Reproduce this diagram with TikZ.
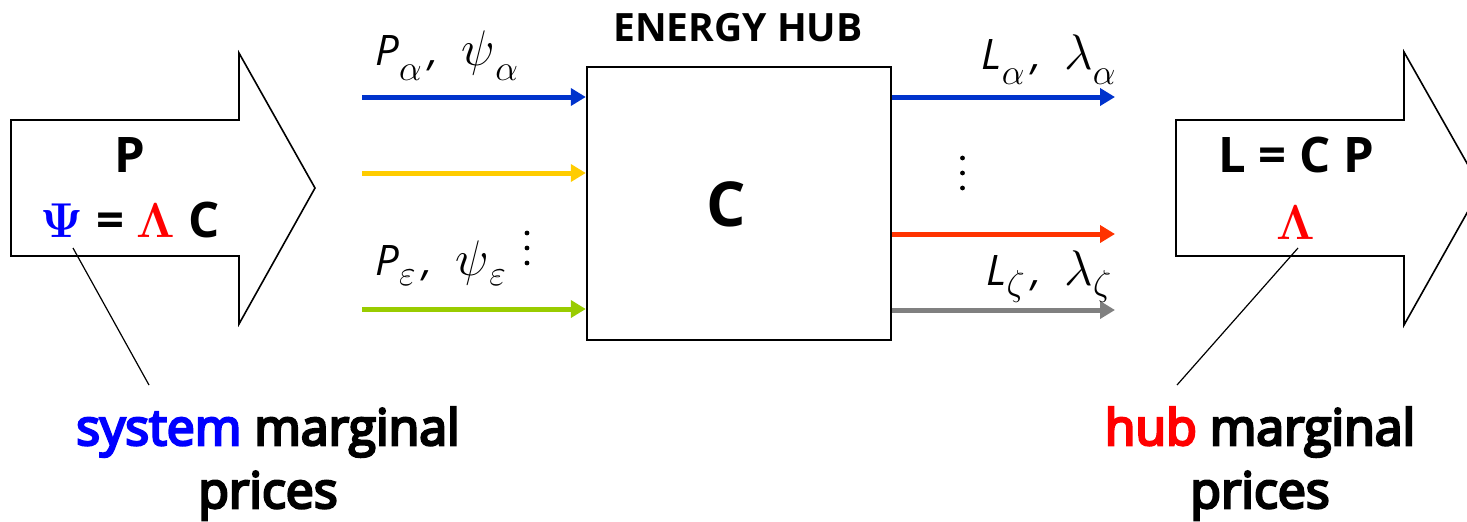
\RequirePackage{fix-cm}
\documentclass[tikz,border=0pt]{standalone}
\usepackage{amsmath}
\usepackage[no-math]{fontspec}
\setmainfont{Open Sans}
\newfontfamily\semibold{Open Sans}[FakeBold=5]
\usetikzlibrary{arrows.meta}
\definecolor{inblue}{HTML}{0033CC}
\definecolor{ingold}{HTML}{FFCC00}
\definecolor{ingreen}{HTML}{99CC00}
\definecolor{outred}{HTML}{FF3300}
\definecolor{outgrey}{HTML}{808080}
\definecolor{sysblue}{HTML}{0000FF}
\definecolor{hubred}{HTML}{FF0000}
\newcommand{\lowsub}[2][7.5pt]{\raisebox{-#1}{\fontsize{18}{18}\selectfont$#2$}}
\newcommand{\bigsym}[1]{{\fontsize{25}{25}\selectfont$#1$}}

\begin{document}
\begin{tikzpicture}[
  x=0.5pt,y=-0.5pt,
  flow/.style={line width=2.5pt,-{Triangle[length=7.5pt,width=8.5pt]}},
  blk/.style={draw,line width=0.8pt,fill=white,line join=miter},
  hubbox/.style={draw,line width=1.2pt,minimum width=152pt,minimum height=136.5pt,inner sep=0pt},
  lbl/.style={inner sep=0pt,anchor=base},
  sym/.style={lbl,font=\bfseries\fontsize{24.5}{29}\selectfont},
  flowlbl/.style={inner sep=0pt,font=\fontsize{21}{25}\selectfont},
  note/.style={inner sep=0pt,anchor=base,align=center,font=\semibold\fontsize{25}{31.5}\selectfont},
  pointer/.style={line width=0.6pt}
]
  \clip (0,0) rectangle (1467,521);

  % block arrows
  \draw[blk] (11,120) -- (239,120) -- (239,53) -- (315,188) -- (239,324) -- (239,256) -- (11,256) -- cycle;
  \draw[blk] (1176,120) -- (1404,120) -- (1404,52) -- (1481,188) -- (1404,325) -- (1404,256) -- (1176,256) -- cycle;

  % hub
  \node[hubbox] (hub) at (739,203.5) {};
  \node[lbl,font=\bfseries\fontsize{19.5}{23}\selectfont] (title) at (738,41) {ENERGY HUB};
  \node[lbl,font=\bfseries\fontsize{31}{36}\selectfont] (hubC) at (726,226) {C};

  % inputs
  \coordinate (ina) at (362,97);
  \coordinate (inb) at (362,173);
  \coordinate (ine) at (362,309);
  \draw[flow,inblue] (ina) -- (ina -| hub.west);
  \draw[flow,ingold] (inb) -- (inb -| hub.west);
  \draw[flow,ingreen] (ine) -- (ine -| hub.west);
  \node[flowlbl,anchor=base west] (pa) at (375,65) {\itshape P\lowsub{\alpha}\,,\; \bigsym{\psi}\lowsub{\alpha}};
  \node[flowlbl,anchor=base west] (pe) at (375,275) {\itshape P\lowsub[5pt]{\varepsilon}\,,\; \bigsym{\psi}\lowsub[5pt]{\varepsilon}};
  \coordinate (dotsin) at (527,248);
  \foreach \dy in {-15,0,15} \fill[shift={(dotsin)}] (0,\dy) circle[radius=2.4];

  % outputs
  \coordinate (outa) at (1115,97);
  \coordinate (outr) at (1115,234);
  \coordinate (outz) at (1115,310);
  \draw[flow,inblue] (outa -| hub.east) -- (outa);
  \draw[flow,outred] (outr -| hub.east) -- (outr);
  \draw[flow,outgrey] (outz -| hub.east) -- (outz);
  \node[flowlbl,anchor=base east] (la) at (1116,69) {\itshape L\lowsub{\alpha}\,,\; \bigsym{\lambda}\lowsub{\alpha}};
  \node[flowlbl,anchor=base west] (lz) at (986,285) {\itshape L\lowsub[5pt]{\zeta}\,,\; \bigsym{\lambda}\lowsub[5pt]{\zeta}};
  \coordinate (dotsout) at (962.5,173);
  \foreach \dy in {-15,0,15} \fill[shift={(dotsout)}] (0,\dy) circle[radius=2.4];

  % inside the block arrows
  \node[sym] (Pin) at (130,172) {P};
  \node[sym] (eqin) at (130,237) {\textcolor{sysblue}{$\mathbf{\Psi}$} = \textcolor{hubred}{$\mathbf{\Lambda}$} C};
  \node[sym] (eqout) at (1296,172) {L = C P};
  \node[sym] (lamout) at (1296,239) {\textcolor{hubred}{$\mathbf{\Lambda}$}};

  % price notes
  \node[note] (sysnote) at (268,508) {\textcolor{sysblue}{system} marginal\\prices};
  \node[note] (hubnote) at (1260,508) {\textcolor{hubred}{hub} marginal\\prices};
  \coordinate (psitip) at (73,248);
  \coordinate (systip) at (149,385);
  \coordinate (lamtip) at (1298,248);
  \coordinate (hubtip) at (1177,385);
  \draw[pointer] (psitip) -- (systip);
  \draw[pointer] (lamtip) -- (hubtip);
\end{tikzpicture}
\end{document}
